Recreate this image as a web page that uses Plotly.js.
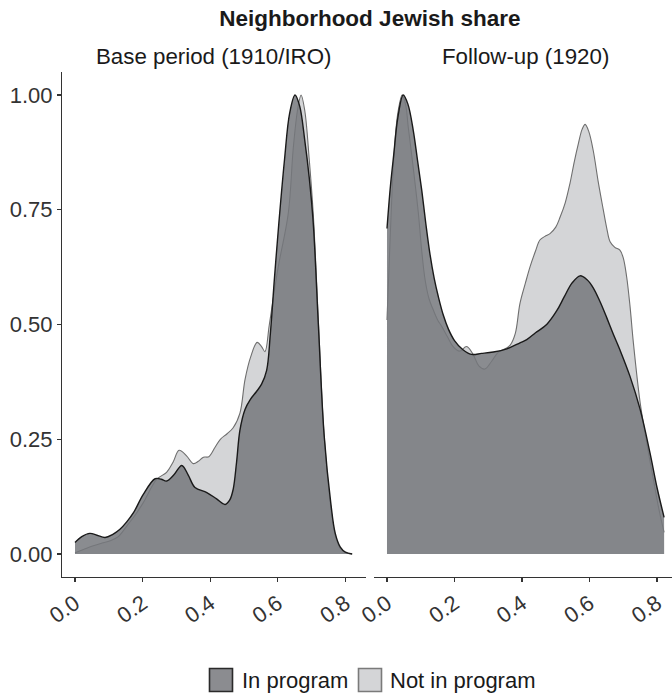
<!DOCTYPE html>
<html>
<head>
<meta charset="utf-8">
<script src="https://cdn.plot.ly/plotly-3.0.1.min.js"></script>
<style>
  html, body { margin: 0; padding: 0; background: #ffffff; }
  #chart { width: 672px; height: 695px; }
</style>
</head>
<body>
<div id="chart"></div>
<script>
// ---- Data (scaled densities) ----
const panelTitles = ["Base period (1910/IRO)", "Follow-up (1920)"];
const seriesNames = ["In program", "Not in program"];
const xTickVals = [0, 0.2, 0.4, 0.6, 0.8];
const xTickText = ["0.0", "0.2", "0.4", "0.6", "0.8"];
const yTickVals = [0, 0.25, 0.5, 0.75, 1];
const yTickText = ["0.00", "0.25", "0.50", "0.75", "1.00"];

// Base period – In program
const baseInX = [0, 0.02, 0.044, 0.065, 0.089, 0.112, 0.133, 0.153, 0.173, 0.202, 0.237, 0.255, 0.271, 0.292, 0.316, 0.335, 0.355, 0.39, 0.419, 0.444, 0.458, 0.468, 0.478, 0.488, 0.503, 0.518, 0.537, 0.552, 0.567, 0.578, 0.59, 0.603, 0.62, 0.635, 0.651, 0.665, 0.68, 0.693, 0.705, 0.72, 0.737, 0.757, 0.77, 0.785, 0.80, 0.82];
const baseInY = [0.025, 0.038, 0.045, 0.041, 0.036, 0.043, 0.054, 0.07, 0.09, 0.13, 0.164, 0.163, 0.159, 0.172, 0.193, 0.172, 0.145, 0.134, 0.12, 0.108, 0.118, 0.141, 0.2, 0.27, 0.315, 0.336, 0.354, 0.37, 0.40, 0.48, 0.6, 0.72, 0.86, 0.96, 1.0, 0.975, 0.9, 0.82, 0.72, 0.5, 0.26, 0.11, 0.045, 0.015, 0.004, 0.0];

// Base period – Not in program
const baseOutX = [0, 0.025, 0.054, 0.08, 0.104, 0.128, 0.153, 0.178, 0.202, 0.242, 0.271, 0.29, 0.308, 0.33, 0.35, 0.365, 0.38, 0.396, 0.414, 0.43, 0.45, 0.468, 0.488, 0.503, 0.52, 0.539, 0.552, 0.562, 0.575, 0.6, 0.631, 0.646, 0.659, 0.669, 0.68, 0.693, 0.705, 0.72, 0.737, 0.757, 0.77, 0.785, 0.80, 0.82];
const baseOutY = [0.003, 0.01, 0.018, 0.024, 0.029, 0.038, 0.061, 0.085, 0.112, 0.163, 0.178, 0.2, 0.226, 0.214, 0.197, 0.202, 0.211, 0.212, 0.232, 0.25, 0.262, 0.275, 0.307, 0.38, 0.43, 0.461, 0.452, 0.441, 0.5, 0.62, 0.742, 0.886, 0.97, 1.0, 0.965, 0.86, 0.74, 0.51, 0.26, 0.1, 0.04, 0.012, 0.003, 0.0];

// Follow-up – In program
const follInX = [0, 0.01, 0.02, 0.032, 0.048, 0.062, 0.078, 0.09, 0.103, 0.115, 0.127, 0.14, 0.152, 0.167, 0.182, 0.2, 0.225, 0.25, 0.28, 0.315, 0.355, 0.394, 0.414, 0.44, 0.473, 0.503, 0.525, 0.548, 0.572, 0.592, 0.611, 0.631, 0.651, 0.67, 0.69, 0.72, 0.75, 0.779, 0.80, 0.821];
const follInY = [0.709, 0.8, 0.87, 0.95, 1.0, 0.98, 0.922, 0.86, 0.792, 0.72, 0.655, 0.6, 0.561, 0.52, 0.49, 0.465, 0.445, 0.435, 0.437, 0.44, 0.447, 0.46, 0.467, 0.482, 0.5, 0.53, 0.56, 0.59, 0.606, 0.598, 0.58, 0.55, 0.515, 0.48, 0.445, 0.387, 0.315, 0.221, 0.145, 0.08];

// Follow-up – Not in program
const follOutX = [0, 0.01, 0.02, 0.032, 0.045, 0.055, 0.063, 0.078, 0.093, 0.103, 0.113, 0.125, 0.137, 0.15, 0.162, 0.18, 0.196, 0.215, 0.236, 0.255, 0.272, 0.29, 0.31, 0.33, 0.35, 0.365, 0.38, 0.394, 0.41, 0.424, 0.44, 0.453, 0.468, 0.483, 0.5, 0.513, 0.528, 0.542, 0.555, 0.567, 0.578, 0.587, 0.598, 0.611, 0.626, 0.641, 0.651, 0.661, 0.675, 0.69, 0.70, 0.71, 0.72, 0.73, 0.75, 0.77, 0.79, 0.805, 0.821];
const follOutY = [0.51, 0.7, 0.86, 0.96, 1.0, 0.98, 0.93, 0.84, 0.742, 0.66, 0.597, 0.555, 0.532, 0.51, 0.496, 0.472, 0.452, 0.442, 0.452, 0.435, 0.41, 0.403, 0.42, 0.44, 0.447, 0.455, 0.48, 0.546, 0.59, 0.626, 0.66, 0.684, 0.692, 0.698, 0.712, 0.734, 0.765, 0.807, 0.855, 0.894, 0.925, 0.936, 0.92, 0.879, 0.81, 0.749, 0.71, 0.68, 0.668, 0.662, 0.645, 0.604, 0.54, 0.46, 0.33, 0.24, 0.16, 0.1, 0.047];

// ---- Styles ----
const FONT = '"Liberation Sans", Arial, Helvetica, sans-serif';
const lightFill = '#d4d5d7';
const lightLine = '#6e6e6e';
const darkFill = 'rgba(118,120,124,0.85)';
const darkLine = '#1a1a1a';

function panelTraces(xIn, yIn, xOut, yOut, xa) {
  return [
    {x: xOut, y: yOut, xaxis: xa, yaxis: 'y', type: 'scatter', mode: 'lines',
     line: {width: 0, shape: 'spline', smoothing: 1}, fill: 'tozeroy', fillcolor: lightFill,
     showlegend: false, hoverinfo: 'skip', name: seriesNames[1]},
    {x: xOut, y: yOut, xaxis: xa, yaxis: 'y', type: 'scatter', mode: 'lines',
     line: {width: 1.1, color: lightLine, shape: 'spline', smoothing: 1},
     showlegend: false, name: seriesNames[1]},
    {x: xIn, y: yIn, xaxis: xa, yaxis: 'y', type: 'scatter', mode: 'lines',
     line: {width: 0, shape: 'spline', smoothing: 1}, fill: 'tozeroy', fillcolor: darkFill,
     showlegend: false, hoverinfo: 'skip', name: seriesNames[0]},
    {x: xIn, y: yIn, xaxis: xa, yaxis: 'y', type: 'scatter', mode: 'lines',
     line: {width: 1.4, color: darkLine, shape: 'spline', smoothing: 1},
     showlegend: false, name: seriesNames[0]}
  ];
}

const traces = [].concat(
  panelTraces(baseInX, baseInY, baseOutX, baseOutY, 'x'),
  panelTraces(follInX, follInY, follOutX, follOutY, 'x2')
);

const W = 672, H = 695, T = 72, B = 118;
const PH = H - T - B;
const px2x = p => p / W;
const py2y = p => (H - B - p) / PH;

const TICK_SIZE = 22;
const TEXT_SIZE = 22.3;

const xAxisCommon = {
  showline: true, linecolor: '#333333', linewidth: 1.1,
  ticks: 'outside', ticklen: 4, tickcolor: '#333333', tickwidth: 1.1,
  tickvals: xTickVals, ticktext: xTickText, tickangle: -35,
  tickfont: {family: FONT, size: TICK_SIZE, color: '#333333'},
  showgrid: false, zeroline: false, anchor: 'y', fixedrange: true
};

const layout = {
  width: W, height: H,
  margin: {l: 0, r: 0, t: T, b: B, pad: 0},
  paper_bgcolor: '#ffffff', plot_bgcolor: '#ffffff',
  font: {family: FONT, color: '#1a1a1a'},
  showlegend: false,
  title: {
    text: '<b>Neighborhood Jewish share</b>',
    font: {family: FONT, size: 22.5, color: '#1a1a1a'},
    x: px2x(369.8), xref: 'paper', xanchor: 'center',
    y: 1 - 18 / H, yref: 'container', yanchor: 'middle'
  },
  xaxis: Object.assign({}, xAxisCommon, {domain: [px2x(62), px2x(365.6)], range: [-0.0385, 0.8598]}),
  xaxis2: Object.assign({}, xAxisCommon, {domain: [px2x(374), 1], range: [-0.0385, 0.8444]}),
  yaxis: {
    domain: [0, 1], range: [-0.05, 1.05], anchor: 'x',
    showline: true, linecolor: '#333333', linewidth: 1.1,
    ticks: 'outside', ticklen: 4, tickcolor: '#333333', tickwidth: 1.1,
    tickvals: yTickVals, ticktext: yTickText,
    tickfont: {family: FONT, size: TICK_SIZE, color: '#333333'},
    showgrid: false, zeroline: false, fixedrange: true
  },
  annotations: [
    {text: panelTitles[0], xref: 'paper', yref: 'paper', x: px2x(213.8), y: py2y(57),
     xanchor: 'center', yanchor: 'middle', showarrow: false,
     font: {family: FONT, size: TEXT_SIZE, color: '#1a1a1a'}},
    {text: panelTitles[1], xref: 'paper', yref: 'paper', x: px2x(525.8), y: py2y(57),
     xanchor: 'center', yanchor: 'middle', showarrow: false,
     font: {family: FONT, size: TEXT_SIZE, color: '#1a1a1a'}},
    {text: seriesNames[0], xref: 'paper', yref: 'paper', x: px2x(239.5), y: py2y(680),
     xanchor: 'left', yanchor: 'middle', showarrow: false,
     font: {family: FONT, size: 22, color: '#1a1a1a'}},
    {text: seriesNames[1], xref: 'paper', yref: 'paper', x: px2x(387.5), y: py2y(680),
     xanchor: 'left', yanchor: 'middle', showarrow: false,
     font: {family: FONT, size: 22, color: '#1a1a1a'}}
  ],
  shapes: [
    {type: 'rect', xref: 'paper', yref: 'paper',
     x0: px2x(209.5), x1: px2x(232.5), y0: py2y(668.5), y1: py2y(691.5),
     fillcolor: '#8b8c90', line: {color: '#2a2a2a', width: 1.6}},
    {type: 'rect', xref: 'paper', yref: 'paper',
     x0: px2x(358.5), x1: px2x(381.5), y0: py2y(668.5), y1: py2y(691.5),
     fillcolor: lightFill, line: {color: '#7a7a7a', width: 1.6}}
  ]
};

Plotly.newPlot('chart', traces, layout, {displayModeBar: false, staticPlot: true});
</script>
</body>
</html>
